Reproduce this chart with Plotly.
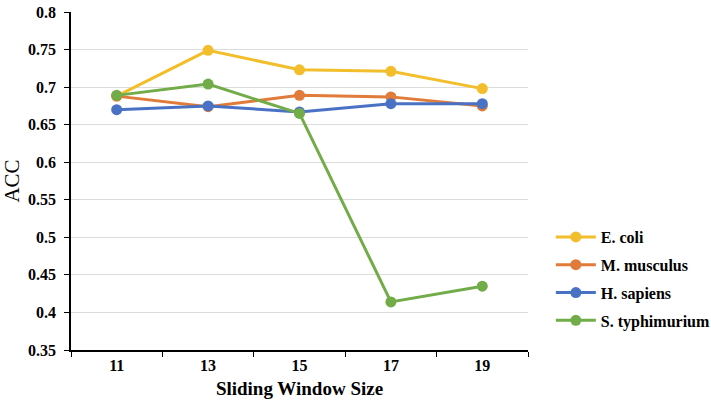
import plotly.graph_objects as go

window_sizes = ["11", "13", "15", "17", "19"]
e_coli = [0.688, 0.749, 0.723, 0.721, 0.698]
m_musculus = [0.688, 0.674, 0.689, 0.687, 0.675]
h_sapiens = [0.670, 0.675, 0.667, 0.678, 0.678]
s_typhimurium = [0.689, 0.704, 0.665, 0.414, 0.435]
y_ticks = [0.35, 0.4, 0.45, 0.5, 0.55, 0.6, 0.65, 0.7, 0.75, 0.8]
y_tick_labels = ["0.35", "0.4", "0.45", "0.5", "0.55", "0.6", "0.65", "0.7", "0.75", "0.8"]

series = [
    ("E. coli", e_coli, "#F2BE2C"),
    ("M. musculus", m_musculus, "#E07B39"),
    ("H. sapiens", h_sapiens, "#4A72C4"),
    ("S. typhimurium", s_typhimurium, "#72AC48"),
]

font_family = "Liberation Serif, Times New Roman, serif"

fig = go.Figure()
for name, vals, color in series:
    fig.add_trace(go.Scatter(
        x=window_sizes, y=vals, name=name, mode="lines+markers",
        legendgroup=name,
        line=dict(color=color, width=3),
        marker=dict(color=color, size=11),
    ))

fig.update_layout(
    width=711, height=408,
    margin=dict(l=71, r=183, t=12, b=58, autoexpand=False),
    paper_bgcolor="white", plot_bgcolor="white",
    font=dict(family=font_family, color="black"),
    showlegend=True,
    legend=dict(
        x=1.05, y=0.21, xanchor="left", yanchor="middle",
        font=dict(family=font_family, size=16, color="black", weight="bold"),
        itemwidth=40, tracegroupgap=4,
        bgcolor="rgba(0,0,0,0)",
    ),
    xaxis=dict(
        type="category", range=[-0.5, 4.5], automargin=False,
        tickson="boundaries", ticks="outside", ticklen=5, tickcolor="black",
        showline=True, linecolor="black", linewidth=1.5,
        showgrid=False,
        tickfont=dict(family=font_family, size=16, color="black", weight="bold"),
        title=dict(text="Sliding Window Size", standoff=9,
                   font=dict(family=font_family, size=19, color="black", weight="bold")),
    ),
    yaxis=dict(
        range=[0.35, 0.8], tickvals=y_ticks, ticktext=y_tick_labels, automargin=False,
        ticks="outside", ticklen=5, tickcolor="black", ticklabelstandoff=5,
        showline=True, linecolor="black", linewidth=1.5,
        showgrid=True, gridcolor="#DCDCDC", gridwidth=1,
        zeroline=False,
        tickfont=dict(family=font_family, size=16, color="black", weight="bold"),
        title=dict(text="ACC", standoff=14,
                   font=dict(family=font_family, size=21, color="black")),
    ),
)

fig.write_html("out.html", config={"displayModeBar": False},
               post_script="document.body.style.margin='0px';")
